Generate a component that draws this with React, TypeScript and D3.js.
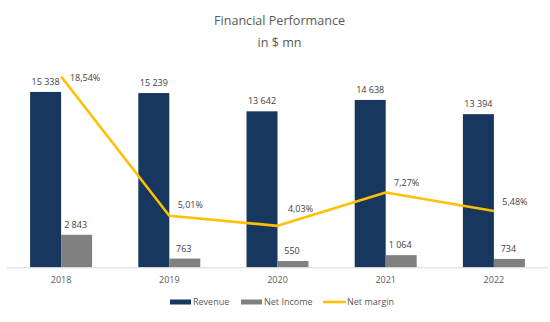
import React from "react";
import * as d3 from "d3";

const years = ["2018", "2019", "2020", "2021", "2022"];
const revenue = [15338, 15239, 13642, 14638, 13394];
const netIncome = [2843, 763, 550, 1064, 734];
const netMargin = [18.54, 5.01, 4.03, 7.27, 5.48];
const marginLabels = ["18,54%", "5,01%", "4,03%", "7,27%", "5,48%"];
const seriesNames = ["Revenue", "Net Income", "Net margin"];

const W = 550;
const H = 322;
const FONT = "'Open Sans', 'Noto Sans', sans-serif";
const NAVY = "#17375E";
const GRAY = "#808080";
const GOLD = "#FFC000";
const TXT = "#404040";
const TXT2 = "#595959";

// label offsets relative to the line point (style only)
const marginLabelOffsets: [number, number][] = [
  [24, 1.5],
  [21, -11.5],
  [23, -17],
  [21, -10],
  [21, -9.5],
];

const fmt = (v: number) => {
  const s = String(v);
  return s.replace(/\B(?=(\d{3})+(?!\d))/g, " ");
};

export default function App() {
  const x = d3.scaleBand<string>().domain(years).range([7, 548]).paddingInner(0).paddingOuter(0);
  const bw = 31;
  const yL = d3.scaleLinear().domain([0, 18000]).range([267.3, 61.5]);
  const yR = d3.scaleLinear().domain([0, 20]).range([267.3, 61.5]);

  const cx = (y: string) => (x(y) as number) + x.bandwidth() / 2;

  const line = d3
    .line<number>()
    .x((_, i) => cx(years[i]))
    .y((d) => yR(d));

  return (
    <svg
      width={W}
      height={H}
      style={{ position: "absolute", left: 0, top: 0, display: "block", background: "#fff" }}
      fontFamily={FONT}
    >
      <rect x={0} y={0} width={W} height={H} fill="#fff" />
      <text x={279.5} y={24.5} textAnchor="middle" fontSize={12.6} fill={TXT2}>
        Financial Performance
      </text>
      <text x={279.5} y={46.5} textAnchor="middle" fontSize={12.6} fill={TXT2}>
        in $ mn
      </text>

      {/* bars */}
      {years.map((yr, i) => (
        <g key={yr}>
          <rect
            x={cx(yr) - bw}
            y={yL(revenue[i])}
            width={bw}
            height={yL(0) - yL(revenue[i])}
            fill={NAVY}
          />
          <rect
            x={cx(yr)}
            y={yL(netIncome[i])}
            width={bw}
            height={yL(0) - yL(netIncome[i])}
            fill={GRAY}
          />
        </g>
      ))}

      {/* axis line */}
      <line x1={7} x2={548} y1={yL(0) + 0.5} y2={yL(0) + 0.5} stroke="#D9D9D9" strokeWidth={1} />

      {/* net margin line */}
      <path d={line(netMargin) || ""} fill="none" stroke={GOLD} strokeWidth={2.6} strokeLinejoin="round" />

      {/* bar labels */}
      {years.map((yr, i) => (
        <g key={"l" + yr} fontSize={9} fill={TXT}>
          <text x={cx(yr) - bw / 2} y={yL(revenue[i]) - 7} textAnchor="middle">
            {fmt(revenue[i])}
          </text>
          <text x={cx(yr) + bw / 2 - 1} y={yL(netIncome[i]) - 7} textAnchor="middle">
            {fmt(netIncome[i])}
          </text>
          <text
            x={cx(yr) + marginLabelOffsets[i][0]}
            y={yR(netMargin[i]) + marginLabelOffsets[i][1] + 3.3}
            textAnchor="middle"
          >
            {marginLabels[i]}
          </text>
          <text x={cx(yr)} y={282.8} textAnchor="middle" fill={TXT2}>
            {yr}
          </text>
        </g>
      ))}

      {/* legend */}
      <g fontSize={9} fill={TXT2}>
        <rect x={170} y={299.5} width={21} height={5} fill={NAVY} />
        <text x={193} y={305.3}>{seriesNames[0]}</text>
        <rect x={241} y={299.5} width={21} height={5} fill={GRAY} />
        <text x={264} y={305.3}>{seriesNames[1]}</text>
        <line x1={323} x2={346} y1={302} y2={302} stroke={GOLD} strokeWidth={2.6} />
        <text x={347} y={305.3}>{seriesNames[2]}</text>
      </g>
    </svg>
  );
}
